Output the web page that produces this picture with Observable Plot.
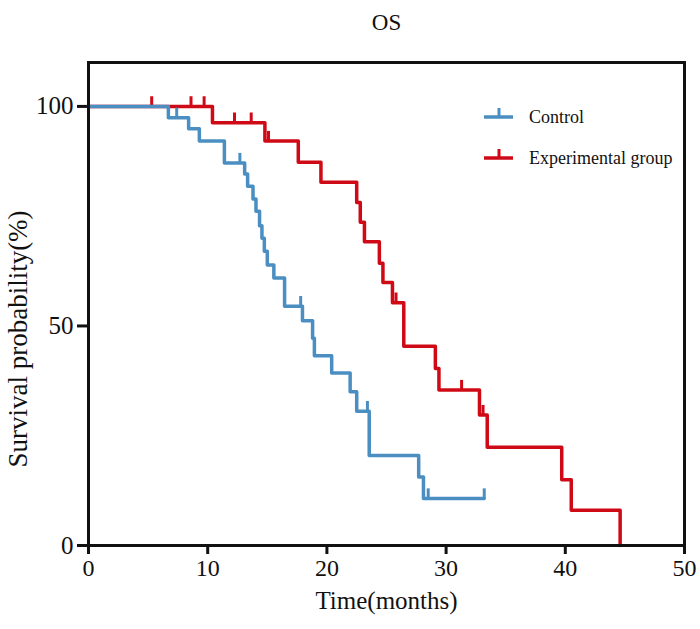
<!DOCTYPE html>
<html>
<head>
<meta charset="utf-8">
<script src="https://cdn.jsdelivr.net/npm/d3@7"></script>
<script src="https://cdn.jsdelivr.net/npm/@observablehq/plot@0.6"></script>
<style>
  html, body { margin: 0; padding: 0; background: white; }
  #wrap { position: relative; width: 700px; height: 629px; font-family: "Liberation Serif", serif; }
  #legend { position: absolute; left: 0; top: 0; }
</style>
</head>
<body>
<div id="wrap"></div>
<script>
// ---- Data ----
const controlTimes  = [0, 6.7, 8.4, 9.3, 11.4, 13.1, 13.35, 13.8, 14.05, 14.35, 14.55, 14.75, 15.0, 15.55, 16.45, 17.95, 18.8, 18.95, 20.4, 21.95, 22.5, 23.55, 27.7, 28.1, 33.2];
const controlSurv   = [100, 97.4, 94.9, 92.1, 87.1, 84.6, 81.8, 78.9, 76.1, 72.8, 70.0, 67.0, 63.9, 60.9, 54.5, 51.2, 47.2, 43.2, 39.3, 35.0, 30.6, 20.5, 15.6, 10.7, 10.7];
const controlCensorT = [7.4, 12.7, 17.8, 23.4, 28.5, 33.2];
const controlCensorS = [97.4, 87.1, 54.5, 30.6, 10.7, 10.7];

const expTimes = [0, 10.4, 14.8, 17.6, 19.5, 22.5, 22.8, 23.15, 24.4, 24.7, 25.5, 26.45, 29.1, 29.4, 32.8, 33.45, 39.7, 40.5, 44.6];
const expSurv  = [100, 96.3, 92.1, 87.3, 82.7, 78.1, 73.6, 69.2, 64.3, 59.9, 55.3, 45.4, 40.3, 35.4, 29.7, 22.4, 15.0, 8.0, 0];
const expCensorT = [5.3, 8.6, 9.7, 12.25, 13.65, 15.1, 25.8, 31.3, 33.1];
const expCensorS = [100, 100, 100, 96.3, 96.3, 92.1, 55.3, 35.4, 29.7];

const seriesNames = ["Control", "Experimental group"];
const seriesColors = ["#4a8ec2", "#cf0a16"];
const xTicks = [0, 10, 20, 30, 40, 50];
const yTicks = [0, 50, 100];
const title = "OS";
const xLabel = "Time(months)";
const yLabel = "Survival probability(%)";

// ---- Build tables ----
const control = controlTimes.map((t, i) => ({t, s: controlSurv[i]}));
const exp = expTimes.map((t, i) => ({t, s: expSurv[i]}));
const controlCens = controlCensorT.map((t, i) => ({t, s: controlCensorS[i]}));
const expCens = expCensorT.map((t, i) => ({t, s: expCensorS[i]}));
const tickLen = 2.2;

const plot = Plot.plot({
  width: 700,
  height: 629,
  marginLeft: 88,
  marginRight: 16,
  marginTop: 62,
  marginBottom: 84,
  style: {fontFamily: "Liberation Serif, serif", fontSize: "24px", color: "#111", background: "white"},
  x: {domain: [0, 50]},
  y: {domain: [0, 110]},
  marks: [
    Plot.axisX({ticks: xTicks, tickSize: 9, tickPadding: 4, strokeWidth: 3, label: null, fontSize: 24}),
    Plot.axisY({ticks: yTicks, tickSize: 11, tickPadding: 4, strokeWidth: 3, label: null, fontSize: 25}),
    Plot.line(exp, {x: "t", y: "s", curve: "step-after", stroke: seriesColors[1], strokeWidth: 3.5}),
    Plot.ruleX(expCens, {x: "t", y1: "s", y2: d => d.s + tickLen, stroke: seriesColors[1], strokeWidth: 3}),
    Plot.line(control, {x: "t", y: "s", curve: "step-after", stroke: seriesColors[0], strokeWidth: 3.5}),
    Plot.ruleX(controlCens, {x: "t", y1: "s", y2: d => d.s + tickLen, stroke: seriesColors[0], strokeWidth: 3}),
    Plot.frame({stroke: "#111", strokeWidth: 3}),
    Plot.text([title], {text: d => d, frameAnchor: "top", dy: -49, fontSize: 23, fill: "#111"}),
    Plot.text([xLabel], {text: d => d, frameAnchor: "bottom", dy: 63, fontSize: 25, fill: "#111"}),
    Plot.text([yLabel], {text: d => d, frameAnchor: "left", textAnchor: "middle", rotate: -90, dx: -70, dy: 35, fontSize: 27, fill: "#111"})
  ]
});
const wrap = document.getElementById("wrap");
wrap.appendChild(plot);

// ---- Legend overlay ----
const ns = "http://www.w3.org/2000/svg";
const leg = document.createElementNS(ns, "svg");
leg.setAttribute("id", "legend");
leg.setAttribute("width", 700);
leg.setAttribute("height", 629);
const legY = [117, 158];
seriesNames.forEach((name, i) => {
  const y = legY[i];
  const l = document.createElementNS(ns, "line");
  l.setAttribute("x1", 484); l.setAttribute("x2", 513);
  l.setAttribute("y1", y); l.setAttribute("y2", y);
  l.setAttribute("stroke", seriesColors[i]); l.setAttribute("stroke-width", 3.5);
  leg.appendChild(l);
  const tk = document.createElementNS(ns, "line");
  tk.setAttribute("x1", 499); tk.setAttribute("x2", 499);
  tk.setAttribute("y1", y); tk.setAttribute("y2", y - 9);
  tk.setAttribute("stroke", seriesColors[i]); tk.setAttribute("stroke-width", 3);
  leg.appendChild(tk);
  const tx = document.createElementNS(ns, "text");
  tx.setAttribute("x", 529); tx.setAttribute("y", y);
  tx.setAttribute("dy", "0.32em");
  tx.setAttribute("font-family", "Liberation Serif, serif");
  tx.setAttribute("font-size", 18);
  tx.setAttribute("fill", "#111");
  tx.textContent = name;
  leg.appendChild(tx);
});
wrap.appendChild(leg);
</script>
</body>
</html>
